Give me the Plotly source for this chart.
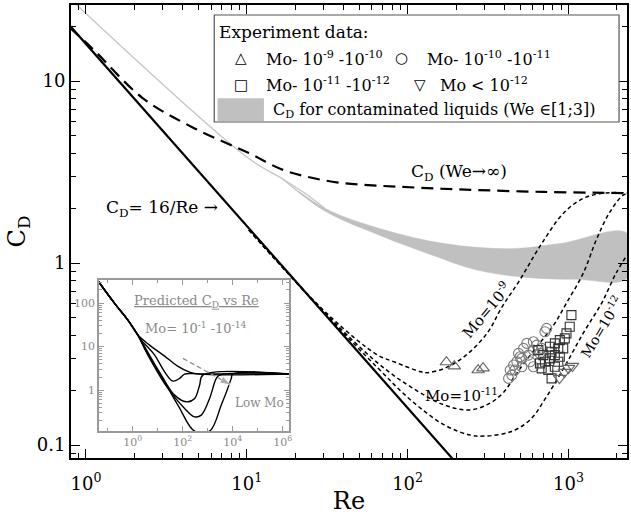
import plotly.graph_objects as go

# ---------------- data ----------------
# Stokes-type drag law C_D = 16/Re
RE_STOKES = [0.8, 200.0]
CD_STOKES = [20.0, 0.08]

# C_D for We -> infinity (long dashes)
RE_WEINF = [0.797, 1.104, 2.25, 4.58, 10.3, 16.4, 24.1, 37.0, 56.6, 86.7, 147, 270, 701, 1791, 2313]
CD_WEINF = [19.6, 15.0, 8.07, 5.58, 4.02, 3.28, 2.97, 2.77, 2.68, 2.63, 2.57, 2.52, 2.46, 2.43, 2.42]

# contaminated liquids: thin line at low Re, then band for We in [1;3]
RE_CONT_LINE = [0.877, 10.3, 16.5, 23.0, 30.6]
CD_CONT_LINE = [26.2, 3.75, 2.92, 2.42, 2.0]
RE_BAND_UP = [16.5, 30.6, 68.4, 168.6, 434, 884, 2313]
CD_BAND_UP = [2.92, 2.0, 1.54, 1.28, 1.20, 1.28, 1.46]
RE_BAND_LO = [16.5, 30.6, 68.4, 133, 270, 550, 1120, 2313]
CD_BAND_LO = [2.92, 1.93, 1.41, 1.13, 0.915, 0.834, 0.814, 0.824]

# predicted curves for three Morton numbers (short dashes)
RE_MO9 = [10.3, 32.1, 65.3, 83.1, 120.3, 132.9, 169.2, 224.9, 311.8, 385.9, 498.3, 662.3, 931.5, 1237, 1644, 2313]
CD_MO9 = [1.52, 0.52, 0.312, 0.286, 0.253, 0.250, 0.264, 0.306, 0.411, 0.573, 0.807, 1.23, 1.88, 2.27, 2.42, 2.43]
RE_MO11 = [10.3, 32.1, 65.3, 104.4, 169.2, 244.8, 325.3, 397.1, 477.5, 634.7, 808, 972, 1237, 1489, 1791, 2185, 2313]
CD_MO11 = [1.52, 0.511, 0.282, 0.209, 0.166, 0.156, 0.170, 0.196, 0.249, 0.347, 0.456, 0.603, 0.881, 1.34, 1.88, 2.36, 2.39]
RE_MO12 = [10.3, 32.1, 65.3, 104.4, 169.2, 244.8, 298.8, 432.3, 574.4, 721, 944, 1238, 1622, 1977, 2313]
CD_MO12 = [1.52, 0.505, 0.265, 0.177, 0.129, 0.1135, 0.112, 0.118, 0.137, 0.181, 0.269, 0.413, 0.611, 0.881, 1.106]

# experiment data
RE_EXP_A = [174.1, 195.1, 274.4, 294.5]                 # Mo 1e-9 .. 1e-10
CD_EXP_A = [0.2858, 0.2716, 0.2583, 0.2649]
RE_EXP_B = [424.4, 444.7, 434.1, 455.6, 477.5, 512.8, 489.2, 525.4, 550.6, 605.4, 634.7,
            605.4, 564.0, 576.9, 605.4, 512.8, 665.0, 681.3, 714.1, 731.6, 500.6, 464.2]  # Mo 1e-10 .. 1e-11
CD_EXP_B = [0.2325, 0.2424, 0.2583, 0.2752, 0.2869, 0.2995, 0.3190, 0.3399, 0.3620, 0.3694, 0.3543,
            0.3326, 0.3122, 0.2869, 0.2693, 0.2693, 0.3190, 0.3399, 0.4195, 0.4377, 0.3056, 0.2583]
RE_EXP_C = [650.2, 698.3, 714.1, 766.7, 785.4, 766.7, 823.0, 864.0, 823.0, 864.0, 749.4,
            785.4, 823.0, 883.7, 927.6, 948.9, 972.0, 1018.6, 1043.5, 883.7, 681.3, 665.0]  # Mo 1e-11 .. 1e-12
CD_EXP_C = [0.3326, 0.3122, 0.2869, 0.2995, 0.3257, 0.3467, 0.3620, 0.3399, 0.3122, 0.2869, 0.2583,
            0.2325, 0.2693, 0.3056, 0.3399, 0.3857, 0.4109, 0.4467, 0.5176, 0.3775, 0.2639, 0.2811]
RE_EXP_D = [879.8, 944.8, 1000.0, 1058.5]                # Mo < 1e-12
CD_EXP_D = [0.2334, 0.2518, 0.2649, 0.2716]

# inset: predicted C_D vs Re for Mo = 1e-1 .. 1e-14
INSET_RE = [
    [0.0437, 0.1905, 0.648, 1.629, 4.79, 19.05, 63.1, 190.5, 478.6, 1.9e6],
    [0.0437, 0.1905, 0.648, 1.629, 2.23, 7.59, 19.05, 40.9, 75.9, 120.2, 478.6, 1.9e6],
    [0.0437, 0.1905, 0.648, 1.629, 3.02, 14.06, 47.9, 140.6, 302, 478.6, 648.6, 1.9e6],
    [0.0437, 0.1905, 0.648, 1.629, 4.09, 25.8, 120.2, 302, 559.8, 1202, 2228, 3020, 1.9e6],
    [0.0437, 0.1905, 0.648, 1.629, 64.9, 302, 1202, 3532, 8872, 1.0e4, 1.9e6],
]
INSET_CD = [
    [309, 98.4, 40.6, 18.4, 10.8, 6.05, 3.56, 2.59, 2.33, 2.33],
    [309, 98.4, 40.6, 18.4, 14.1, 6.38, 2.63, 1.61, 1.86, 2.33, 2.36, 2.36],
    [309, 98.4, 40.6, 18.4, 9.09, 2.21, 0.767, 0.538, 0.644, 1.30, 2.21, 2.30],
    [309, 98.4, 40.6, 18.4, 6.38, 1.094, 0.380, 0.243, 0.266, 0.644, 1.86, 2.21, 2.39],
    [309, 98.4, 40.6, 18.4, 0.452, 0.114, 0.114, 0.452, 1.86, 2.33, 2.33],
]
ARROW_RE = [102.8, 8872]
ARROW_CD = [5.36, 1.30]

FONT = "DejaVu Serif"
sup = lambda s: f"10<sup>{s}</sup>"

fig = go.Figure()

# contaminated-liquid band (closed polygon upper -> lower reversed)
fig.add_trace(go.Scatter(
    x=RE_BAND_UP + RE_BAND_LO[::-1], y=CD_BAND_UP + CD_BAND_LO[::-1],
    fill="toself", fillcolor="#c0c0c0", line=dict(color="#c0c0c0", width=0.5),
    mode="lines", line_shape="spline", hoverinfo="skip"))
fig.add_trace(go.Scatter(x=RE_CONT_LINE, y=CD_CONT_LINE, mode="lines", line_shape="spline",
                         line=dict(color="#c4c4c4", width=1.2)))

# 16/Re
fig.add_trace(go.Scatter(x=RE_STOKES, y=CD_STOKES, mode="lines",
                         line=dict(color="black", width=2.2)))
# We -> inf
fig.add_trace(go.Scatter(x=RE_WEINF, y=CD_WEINF, mode="lines", line_shape="spline",
                         line=dict(color="black", width=2.2, dash="12px,7px")))
# Morton number curves
for rx, cy in [(RE_MO9, CD_MO9), (RE_MO11, CD_MO11), (RE_MO12, CD_MO12)]:
    fig.add_trace(go.Scatter(x=rx, y=cy, mode="lines", line_shape="spline",
                             line=dict(color="black", width=1.5, dash="4px,3px")))

# experiment markers (open symbols take their outline colour from marker.color)
def exp_trace(rx, cy, symbol, color, size):
    return go.Scatter(x=rx, y=cy, mode="markers",
                      marker=dict(symbol=symbol, size=size, color=color,
                                  line=dict(width=1.1)))

fig.add_trace(exp_trace(RE_EXP_B, CD_EXP_B, "circle-open", "#7a7a7a", 10))
fig.add_trace(exp_trace(RE_EXP_C, CD_EXP_C, "square-open", "#333333", 9))
fig.add_trace(exp_trace(RE_EXP_A, CD_EXP_A, "triangle-up-open", "#666666", 11))
fig.add_trace(exp_trace(RE_EXP_D, CD_EXP_D, "triangle-down-open", "#666666", 11))

# inset curves
for rx, cy in zip(INSET_RE, INSET_CD):
    fig.add_trace(go.Scatter(x=rx, y=cy, mode="lines", line_shape="spline",
                             line=dict(color="black", width=1.4),
                             xaxis="x2", yaxis="y2"))
fig.add_trace(go.Scatter(x=ARROW_RE, y=ARROW_CD, mode="lines+markers",
                         line=dict(color="#8a8a8a", width=1.3, dash="5px,3px"),
                         marker=dict(symbol="arrow", size=[0, 12], angleref="previous",
                                     color="#8a8a8a"),
                         xaxis="x2", yaxis="y2"))

axis_common = dict(type="log", showgrid=False, zeroline=False, showline=True,
                   linecolor="black", linewidth=1.8, mirror="allticks",
                   ticks="inside", ticklen=9, tickwidth=1.4, tickcolor="black",
                   tickfont=dict(family=FONT, size=18, color="black"))

fig.update_layout(
    width=631, height=516,
    margin=dict(l=71, r=1, t=5, b=58),
    plot_bgcolor="white", paper_bgcolor="white",
    showlegend=False,
    font=dict(family=FONT, color="black"),
    xaxis=dict(axis_common, range=[-0.093, 3.364],
               tickvals=[1, 10, 100, 1000], ticktext=[sup(0), sup(1), sup(2), sup(3)],
               ticklabelstandoff=8,
               minor=dict(ticks="inside", ticklen=5, tickcolor="black", dtick="D1"),
               title=dict(text="Re", font=dict(family=FONT, size=24), standoff=0)),
    yaxis=dict(axis_common, range=[-1.071, 1.418],
               tickvals=[0.1, 1, 10], ticktext=["0.1", "1", "10"],
               minor=dict(ticks="inside", ticklen=5, tickcolor="black", dtick="D1"),
               title=dict(text="C<sub>D</sub>", font=dict(family=FONT, size=24), standoff=4)),
    xaxis2=dict(type="log", domain=[0.0501, 0.3918], anchor="y2", range=[-1.35, 6.25],
                showgrid=False, zeroline=False, showline=True, linecolor="#9a9a9a",
                linewidth=1.5, mirror="allticks", ticks="inside", ticklen=5,
                tickcolor="#9a9a9a", tickvals=[1, 100, 1e4, 1e6],
                ticktext=[sup(0), sup(2), sup(4), sup(6)],
                minor=dict(ticks="inside", ticklen=3, tickcolor="#9a9a9a", dtick=1),
                tickfont=dict(family=FONT, size=11, color="#8a8a8a")),
    yaxis2=dict(type="log", domain=[0.0596, 0.3929], anchor="x2", range=[-0.94, 2.53],
                showgrid=False, zeroline=False, showline=True, linecolor="#9a9a9a",
                linewidth=1.5, mirror="allticks", ticks="inside", ticklen=5,
                tickcolor="#9a9a9a", tickvals=[1, 10, 100], ticktext=["1", "10", "100"],
                minor=dict(ticks="inside", ticklen=3, tickcolor="#9a9a9a", dtick="D1"),
                tickfont=dict(family=FONT, size=11, color="#8a8a8a")),
)

def note(text, x, y, size=17, color="black", angle=0, xanchor="center"):
    fig.add_annotation(text=text, x=x, y=y, xref="paper", yref="paper",
                       showarrow=False, textangle=angle, xanchor=xanchor, yanchor="middle",
                       font=dict(family=FONT, size=size, color=color))

# curve labels
note("C<sub>D</sub>= 16/Re \u2192", 0.1645, 0.5497)
note("C<sub>D</sub> (We\u2192\u221e)", 0.6977, 0.6313)
note("Mo=10<sup>-9</sup>", 0.746, 0.3267, size=15, angle=-50)
note("Mo=10<sup>-11</sup>", 0.703, 0.139, size=15)
note("Mo=10<sup>-12</sup>", 0.953, 0.29, size=14, angle=-59)

# inset labels
note("<u>Predicted C<sub>D</sub> vs Re</u>", 0.2249, 0.345, size=13, color="#8a8a8a")
note("Mo= 10<sup>-1</sup> -10<sup>-14</sup>", 0.2249, 0.2863, size=13, color="#8a8a8a")
note("Low Mo", 0.3394, 0.1208, size=12, color="#8a8a8a")

# legend box
fig.add_shape(type="rect", xref="paper", yref="paper", x0=0.2576, x1=0.9857, y0=0.7417, y1=0.9779,
              line=dict(color="#555555", width=1.2), fillcolor="white", layer="above")
fig.add_shape(type="rect", xref="paper", yref="paper", x0=0.2635, x1=0.347, y0=0.7440, y1=0.7940,
              line=dict(width=0), fillcolor="#c0c0c0", layer="above")
note("Experiment data:", 0.263, 0.9404, xanchor="left")
note("\u25b3", 0.3054, 0.8823, size=15)
note("Mo- 10<sup>-9</sup> -10<sup>-10</sup>", 0.347, 0.8823, size=16, xanchor="left")
note("\u25cb", 0.5945, 0.8823, size=15)
note("Mo- 10<sup>-10</sup> -10<sup>-11</sup>", 0.6363, 0.8823, size=16, xanchor="left")
note("\u25a1", 0.3054, 0.8234, size=15)
note("Mo- 10<sup>-11</sup> -10<sup>-12</sup>", 0.347, 0.8234, size=16, xanchor="left")
note("\u25bd", 0.6274, 0.8234, size=15)
note("Mo < 10<sup>-12</sup>", 0.6601, 0.8234, size=16, xanchor="left")
note("C<sub>D</sub> for contaminated liquids (We \u2208[1;3])", 0.359, 0.7682, size=16, xanchor="left")

fig.write_html("out.html")
